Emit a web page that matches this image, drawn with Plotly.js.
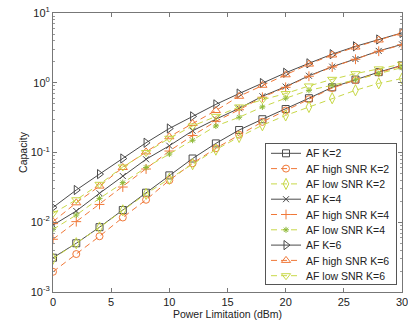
<!DOCTYPE html>
<html>
<head>
<meta charset="utf-8">
<script src="https://cdn.plot.ly/plotly-3.0.1.min.js"></script>
<style>html,body{margin:0;padding:0;background:#fff}#chart{width:408px;height:324px}</style>
</head>
<body>
<div id="chart"></div>
<script>
const power = [0, 2, 4, 6, 8, 10, 12, 14, 16, 18, 20, 22, 24, 26, 28, 30];

const afK2      = [0.0031, 0.0050, 0.0085, 0.015, 0.0265, 0.047, 0.082, 0.135, 0.21, 0.30, 0.42, 0.60, 0.86, 1.11, 1.42, 1.78];
const highK2    = [0.00195, 0.0035, 0.0063, 0.0117, 0.021, 0.040, 0.070, 0.115, 0.18, 0.275, 0.40, 0.58, 0.84, 1.09, 1.40, 1.76];
const lowK2     = [0.0030, 0.0050, 0.0084, 0.0148, 0.0255, 0.042, 0.068, 0.11, 0.167, 0.246, 0.34, 0.45, 0.60, 0.78, 0.98, 1.15];
const afK4      = [0.0091, 0.0145, 0.026, 0.046, 0.080, 0.125, 0.205, 0.30, 0.43, 0.64, 0.88, 1.26, 1.70, 2.19, 2.86, 3.55];
const highK4    = [0.0057, 0.0102, 0.018, 0.032, 0.058, 0.105, 0.175, 0.28, 0.41, 0.62, 0.86, 1.24, 1.68, 2.17, 2.83, 3.50];
const lowK4     = [0.0079, 0.0127, 0.022, 0.037, 0.061, 0.095, 0.15, 0.24, 0.32, 0.45, 0.60, 0.78, 0.92, 1.10, 1.35, 1.65];
const afK6      = [0.0163, 0.029, 0.049, 0.082, 0.138, 0.221, 0.33, 0.49, 0.70, 0.99, 1.39, 1.90, 2.57, 3.33, 4.17, 5.19];
const highK6    = [0.0102, 0.019, 0.033, 0.061, 0.102, 0.168, 0.26, 0.40, 0.64, 0.92, 1.30, 1.85, 2.50, 3.25, 4.10, 5.15];
const lowK6     = [0.0134, 0.021, 0.035, 0.062, 0.10, 0.16, 0.24, 0.33, 0.45, 0.57, 0.70, 0.90, 1.12, 1.35, 1.58, 1.85];

const seriesNames = ['AF K=2', 'AF high SNR K=2', 'AF low SNR K=2',
                     'AF K=4', 'AF high SNR K=4', 'AF low SNR K=4',
                     'AF K=6', 'AF high SNR K=6', 'AF low SNR K=6'];
const seriesData = [afK2, highK2, lowK2, afK4, highK4, lowK4, afK6, highK6, lowK6];

const yTickVals = [0.001, 0.01, 0.1, 1, 10];
const yTickText = ['10<sup>-3</sup>', '10<sup>-2</sup>', '10<sup>-1</sup>', '10<sup>0</sup>', '10<sup>1</sup>'];
const xTickVals = [0, 5, 10, 15, 20, 25, 30];

const GRAY = '#4a4a4a', ORANGE = '#f07838', YEL = '#c8d848', GREEN = '#8cb838';
const styles = [
  {color: GRAY, dash: 'solid', symbol: 'square-open', mcolor: GRAY, size: 7},
  {color: ORANGE, dash: '6px,4px', symbol: 'circle-open', mcolor: ORANGE, size: 7},
  {color: YEL, dash: '6px,4px', symbol: 'diamond-tall-open', mcolor: YEL, size: 8},
  {color: GRAY, dash: 'solid', symbol: 'x-thin-open', mcolor: GRAY, size: 6},
  {color: ORANGE, dash: '6px,4px', symbol: 'cross-thin-open', mcolor: ORANGE, size: 7},
  {color: YEL, dash: '6px,4px', symbol: 'asterisk-open', mcolor: GREEN, size: 5},
  {color: GRAY, dash: 'solid', symbol: 'triangle-right-open', mcolor: GRAY, size: 8},
  {color: ORANGE, dash: '6px,4px', symbol: 'triangle-up-open', mcolor: ORANGE, size: 8},
  {color: YEL, dash: '6px,4px', symbol: 'triangle-down-open', mcolor: YEL, size: 8}
];

const traces = seriesData.map((d, i) => ({
  x: power, y: d, name: seriesNames[i], type: 'scatter', mode: 'lines+markers',
  line: {color: styles[i].color, width: 1, dash: styles[i].dash},
  marker: {symbol: styles[i].symbol, size: styles[i].size, color: styles[i].mcolor, line: {width: 1, color: styles[i].mcolor}}
}));

const tickFont = {family: 'Liberation Sans, Arial, sans-serif', size: 11, color: '#222'};
const titleFont = {family: 'Liberation Sans, Arial, sans-serif', size: 10.5, color: '#222'};
const layout = {
  width: 408, height: 324,
  margin: {l: 53, r: 6, t: 13, b: 32},
  paper_bgcolor: '#fff', plot_bgcolor: '#fff',
  font: tickFont,
  showlegend: true,
  legend: {x: 0.607, y: 0.02, xanchor: 'left', yanchor: 'bottom', bgcolor: '#fff',
           bordercolor: '#555', borderwidth: 1, font: {family: 'Liberation Sans, Arial, sans-serif', size: 10.5, color: '#222'},
           tracegroupgap: 0, itemwidth: 30},
  xaxis: {range: [0, 30], tickvals: xTickVals, ticks: 'inside', ticklen: 4, tickcolor: '#777',
          showline: true, linecolor: '#777', linewidth: 1, mirror: 'ticks', showgrid: false, zeroline: false,
          ticklabeloverflow: 'allow',
          title: {text: 'Power Limitation (dBm)', font: titleFont, standoff: 1}, tickfont: tickFont},
  yaxis: {type: 'log', range: [-3, 1], tickvals: yTickVals, ticktext: yTickText, ticks: 'inside', ticklen: 4, tickcolor: '#777',
          showline: true, linecolor: '#777', linewidth: 1, mirror: 'ticks', showgrid: false, zeroline: false,
          ticklabeloverflow: 'allow',
          minor: {ticks: 'inside', ticklen: 2, tickcolor: '#999', dtick: 'D1', showgrid: false},
          title: {text: 'Capacity', font: titleFont, standoff: 1}, tickfont: tickFont}
};
const gd = document.getElementById('chart');
Plotly.newPlot(gd, traces, layout, {staticPlot: true, displayModeBar: false}).then(() => {
  // compact the legend rows to match the reference spacing
  const leg = gd.querySelector('.legend');
  if (!leg) return;
  const items = leg.querySelectorAll('.traces');
  const rowH = 15.3, first = 10.3;
  items.forEach((it, i) => {
    const m = /translate\(([^,]+),\s*([^)]+)\)/.exec(it.getAttribute('transform') || '');
    const tx = m ? m[1] : 1;
    it.setAttribute('transform', 'translate(' + tx + ',' + (first + i * rowH) + ')');
  });
  const bg = leg.querySelector('rect.bg');
  if (bg) { bg.setAttribute('height', 141); bg.setAttribute('width', 131); }
  leg.setAttribute('transform', 'translate(265,143)');
});
</script>
</body>
</html>
